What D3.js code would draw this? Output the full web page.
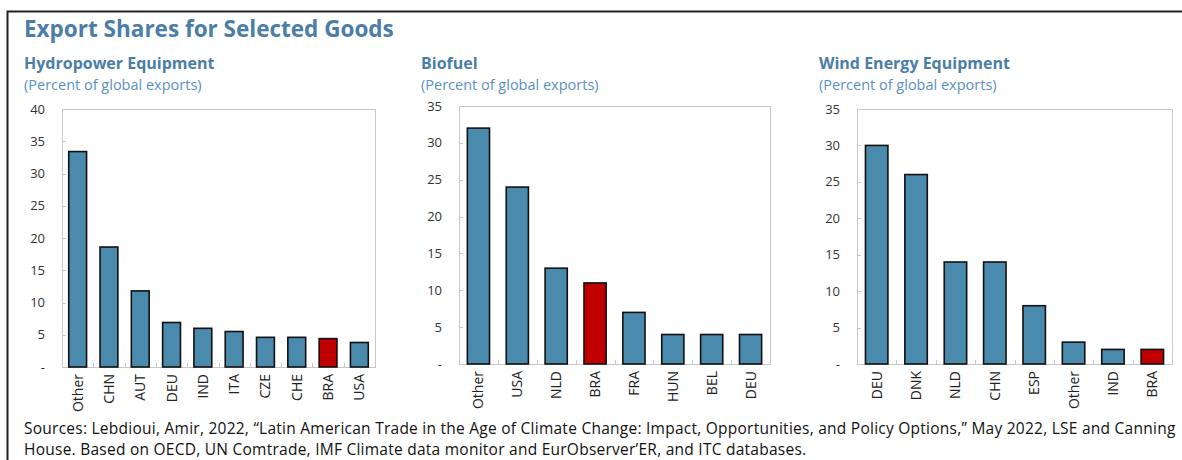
<!DOCTYPE html>
<html>
<head>
<meta charset="utf-8">
<script src="https://cdn.jsdelivr.net/npm/d3@7"></script>
<style>
  body { margin: 0; background: #fff; }
  svg { display: block; font-family: "Open Sans", "Noto Sans", sans-serif; }
</style>
</head>
<body>
<div id="chart"></div>
<script>
// data
var hydroCats   = ["Other", "CHN", "AUT", "DEU", "IND", "ITA", "CZE", "CHE", "BRA", "USA"];
var hydroValues = [33.4, 18.6, 11.8, 6.9, 6.0, 5.5, 4.6, 4.6, 4.4, 3.8];
var hydroTicks  = [0, 5, 10, 15, 20, 25, 30, 35, 40];

var biofuelCats   = ["Other", "USA", "NLD", "BRA", "FRA", "HUN", "BEL", "DEU"];
var biofuelValues = [32, 24, 13, 11, 7, 4, 4, 4];
var biofuelTicks  = [0, 5, 10, 15, 20, 25, 30, 35];

var windCats   = ["DEU", "DNK", "NLD", "CHN", "ESP", "Other", "IND", "BRA"];
var windValues = [30, 26, 14, 14, 8, 3, 2, 2];
var windTicks  = [0, 5, 10, 15, 20, 25, 30, 35];

var highlight = "BRA";

var W = 1182, H = 460;
var blue = "#4a8aad", red = "#c00000";
var titleBlue = "#4a7ea8", subBlue = "#5b90c2";

var svg = d3.select("#chart").append("svg")
  .attr("width", W)
  .attr("height", H);

// outer frame (left and top only)
svg.append("path")
  .attr("d", "M7.5," + H + "V11.5H" + W)
  .attr("fill", "none")
  .attr("stroke", "#222")
  .attr("stroke-width", 2);

svg.append("text")
  .attr("x", 24)
  .attr("y", 37)
  .attr("font-size", 22.5)
  .attr("font-weight", 700)
  .attr("fill", titleBlue)
  .text("Export Shares for Selected Goods");

function makePanel(cfg) {
  var g = svg.append("g");

  g.append("text")
    .attr("x", cfg.tx)
    .attr("y", 69)
    .attr("font-size", 16)
    .attr("font-weight", 700)
    .attr("fill", titleBlue)
    .text(cfg.title);

  g.append("text")
    .attr("x", cfg.tx)
    .attr("y", 90)
    .attr("font-size", 14.5)
    .attr("fill", subBlue)
    .text("(Percent of global exports)");

  var x = d3.scaleBand()
    .domain(cfg.cats)
    .range([cfg.x0, cfg.x1])
    .paddingInner(0.43)
    .paddingOuter(0.215);

  var y = d3.scaleLinear()
    .domain([0, d3.max(cfg.ticks)])
    .range([cfg.y1, cfg.y0]);

  // plot frame
  g.append("rect")
    .attr("x", cfg.x0 + 0.5)
    .attr("y", cfg.y0 + 0.5)
    .attr("width", cfg.x1 - cfg.x0)
    .attr("height", cfg.y1 - cfg.y0)
    .attr("fill", "none")
    .attr("stroke", "#c8c8c8")
    .attr("stroke-width", 1);

  // y ticks (inside) and labels
  g.selectAll("line.ytick")
    .data(cfg.ticks)
    .enter()
    .append("line")
    .attr("class", "ytick")
    .attr("x1", cfg.x0)
    .attr("x2", cfg.x0 + 4)
    .attr("y1", function(d) { return Math.round(y(d)) + 0.5; })
    .attr("y2", function(d) { return Math.round(y(d)) + 0.5; })
    .attr("stroke", "#c8c8c8");

  g.selectAll("text.ylab")
    .data(cfg.ticks)
    .enter()
    .append("text")
    .attr("class", "ylab")
    .attr("x", cfg.x0 - 17)
    .attr("y", function(d) { return y(d) + 4.5; })
    .attr("text-anchor", "end")
    .attr("font-size", 13)
    .attr("fill", "#333")
    .text(function(d) { return d === 0 ? "-" : d; });

  // x ticks between categories
  var step = x.step();
  g.selectAll("line.xtick")
    .data(d3.range(1, cfg.cats.length))
    .enter()
    .append("line")
    .attr("class", "xtick")
    .attr("x1", function(d) { return Math.round(cfg.x0 + d * step) + 0.5; })
    .attr("x2", function(d) { return Math.round(cfg.x0 + d * step) + 0.5; })
    .attr("y1", cfg.y1)
    .attr("y2", cfg.y1 - 4)
    .attr("stroke", "#c8c8c8");

  // bars
  g.selectAll("rect.bar")
    .data(cfg.values)
    .enter()
    .append("rect")
    .attr("class", "bar")
    .attr("x", function(d, i) { return x(cfg.cats[i]); })
    .attr("y", function(d) { return y(d); })
    .attr("width", x.bandwidth())
    .attr("height", function(d) { return y(0) - y(d); })
    .attr("fill", function(d, i) { return cfg.cats[i] === highlight ? red : blue; })
    .attr("stroke", "#111")
    .attr("stroke-width", 1.6);

  // rotated category labels
  g.selectAll("text.xlab")
    .data(cfg.cats)
    .enter()
    .append("text")
    .attr("class", "xlab")
    .attr("transform", function(d) {
      return "translate(" + (x(d) + x.bandwidth() / 2 + 5) + "," + (cfg.y1 + 7) + ") rotate(-90)";
    })
    .attr("text-anchor", "end")
    .attr("font-size", 14)
    .attr("fill", "#222")
    .text(function(d) { return d; });
}

makePanel({ title: "Hydropower Equipment", tx: 24, cats: hydroCats, values: hydroValues, ticks: hydroTicks,
            x0: 62, x1: 375, y0: 109, y1: 367 });
makePanel({ title: "Biofuel", tx: 421, cats: biofuelCats, values: biofuelValues, ticks: biofuelTicks,
            x0: 459, x1: 770, y0: 106, y1: 364 });
makePanel({ title: "Wind Energy Equipment", tx: 819, cats: windCats, values: windValues, ticks: windTicks,
            x0: 857, x1: 1172, y0: 109, y1: 364 });

// source note
var notes = [
  "Sources: Lebdioui, Amir, 2022, \u201cLatin American Trade in the Age of Climate Change: Impact, Opportunities, and Policy Options,\u201d May 2022, LSE and Canning",
  "House. Based on OECD, UN Comtrade, IMF Climate data monitor and EurObserver\u2019ER, and ITC databases."
];
svg.selectAll("text.note")
  .data(notes)
  .enter()
  .append("text")
  .attr("class", "note")
  .attr("x", 24)
  .attr("y", function(d, i) { return 434 + i * 21; })
  .attr("font-size", 15.5)
  .attr("letter-spacing", 0.25)
  .attr("fill", "#111")
  .text(function(d) { return d; });
</script>
</body>
</html>
